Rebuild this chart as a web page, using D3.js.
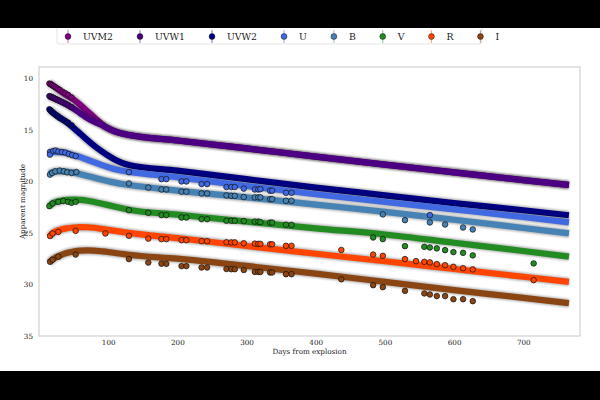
<!DOCTYPE html>
<html><head><meta charset="utf-8">
<script src="https://cdn.jsdelivr.net/npm/d3@7"></script>
<style>body{margin:0;background:#fff}svg{display:block}</style>
</head><body><svg id="c" width="600" height="400"></svg>
<script>
const bands = ["UVM2","UVW1","UVW2","U","B","V","R","I"];
const colors = ["#800080","#4B0082","#000080","#4169E1","#4682B4","#228B22","#FF4500","#8B4513"];
const xTicks = [100,200,300,400,500,600,700];
const yTicks = [10,15,20,25,30,35];

const modelDays = [15,20,30,40,50,60,70,80,90,100,110,120,130,200,300,400,500,600,700,766];
const modelUVM2 = [10.45,10.7,11.2,11.65,12.05,12.6,13.2,13.8,14.4,14.85,15.15,15.35,15.5,16.03,16.8,17.6,18.37,19.12,19.87,20.35];
const modelUVW1 = [11.75,11.9,12.2,12.55,12.95,13.4,13.85,14.2,14.5,14.87,15.16,15.36,15.5,16.03,16.8,17.6,18.37,19.12,19.87,20.35];
const modelUVW2 = [13.0,13.3,13.8,14.25,14.8,15.4,16.0,16.55,17.05,17.5,17.9,18.2,18.4,18.95,19.78,20.6,21.35,22.1,22.8,23.28];
const modelU = [17.2,17.15,17.15,17.25,17.45,17.65,17.9,18.15,18.4,18.62,18.82,18.97,19.07,19.6,20.45,21.25,22.0,22.72,23.45,23.98];
const modelB = [19.25,19.1,19.02,19.05,19.15,19.3,19.47,19.65,19.82,19.98,20.12,20.25,20.35,20.9,21.55,22.25,22.95,23.72,24.52,25.05];
const modelV = [22.4,22.1,21.9,21.8,21.77,21.8,21.88,22.0,22.15,22.3,22.45,22.6,22.75,23.22,23.9,24.55,25.15,25.95,26.75,27.3];
const modelR = [25.35,25.0,24.7,24.55,24.47,24.44,24.45,24.5,24.6,24.7,24.8,24.9,25.0,25.5,26.27,27.02,27.75,28.5,29.25,29.75];
const modelI = [27.85,27.55,27.2,26.95,26.8,26.72,26.7,26.72,26.78,26.85,26.95,27.03,27.12,27.5,28.2,28.95,29.75,30.55,31.3,31.82];

const uvDays = [15,17,19,21,24,27,30,34,38,42,47];
const obsUVM2 = [10.5,10.58,10.66,10.75,10.88,11.0,11.12,11.3,11.45,11.6,11.85];
const obsUVW1 = [11.72,11.78,11.83,11.9,12.0,12.1,12.2,12.32,12.45,12.58,12.78];
const obsUVW2 = [13.0,13.15,13.28,13.4,13.55,13.7,13.85,14.0,14.15,14.3,14.55];

const uDays = [15.8,15.8,20.5,24,28,33,38,43,48,53,130,177,184,206,213,235,243,271,278,283,296,312,317,320,334,337,357,365,565];
const obsU = [17.15,17.4,17.05,17.0,17.1,17.15,17.2,17.35,17.45,17.55,19.1,19.78,19.78,20.0,20.0,20.26,20.26,20.55,20.55,20.55,20.7,20.78,20.78,20.75,20.9,20.9,21.1,21.1,23.27];
const bDays = [15.8,19,23.5,30,35.8,40.7,47,54,130,158,177,184,206,213,235,243,271,278,283,296,312,317,320,334,337,357,365,497,529,565,587,613,627];
const obsB = [19.34,19.18,19.02,18.95,19.02,19.12,19.18,19.09,20.2,20.6,20.78,20.78,21.0,21.0,21.17,21.17,21.36,21.4,21.4,21.52,21.55,21.55,21.55,21.72,21.72,21.88,21.88,23.2,23.76,23.98,24.18,24.47,24.66];
const vDays = [15,19.6,28,35,42,47,53,130,158,177,184,206,213,235,243,271,278,283,296,312,317,320,334,337,357,365,483,497,529,557,565,575,587,599,613,627,715];
const obsV = [22.4,22.14,21.98,21.9,21.98,22.08,21.98,22.79,23.05,23.27,23.27,23.5,23.5,23.66,23.66,23.82,23.82,23.82,23.85,23.9,23.9,23.95,24.0,24.0,24.2,24.22,25.44,25.6,26.28,26.35,26.41,26.5,26.67,26.86,26.93,27.18,27.96];
const rDays = [16,19.6,28,53,96,130,158,177,184,206,213,235,243,271,278,283,296,312,317,320,334,337,357,365,437,483,497,529,545,557,565,575,587,599,613,627,715];
const obsR = [25.3,25.05,24.9,24.8,25.05,25.28,25.55,25.6,25.6,25.7,25.7,25.8,25.8,25.9,25.92,25.92,26.0,26.04,26.06,26.06,26.1,26.1,26.25,26.25,26.65,27.1,27.22,27.54,27.74,27.8,27.86,28.03,28.13,28.29,28.42,28.54,29.58];
const iDays = [16,19.6,28,53,130,158,177,184,206,213,235,243,271,278,283,296,312,317,320,334,337,357,365,437,483,497,529,557,565,575,587,599,613,627];
const obsI = [27.8,27.6,27.3,27.1,27.54,27.87,27.98,28.0,28.22,28.22,28.35,28.35,28.5,28.52,28.52,28.6,28.78,28.78,28.78,28.84,28.84,29.0,29.0,29.5,30.07,30.26,30.62,30.87,30.97,31.13,31.13,31.43,31.43,31.62];

const models = [modelUVM2,modelUVW1,modelUVW2,modelU,modelB,modelV,modelR,modelI];
const obsDays = [uvDays,uvDays,uvDays,uDays,bDays,vDays,rDays,iDays];
const obsMags = [obsUVM2,obsUVW1,obsUVW2,obsU,obsB,obsV,obsR,obsI];

const FONT = "DejaVu Serif";
const svg = d3.select("#c");
const x = d3.scaleLinear().domain([0,782]).range([39,580]);
const y = d3.scaleLinear().domain([8.9,35]).range([67,336]);

const defs = svg.append("defs");
defs.append("filter").attr("id","blur").attr("x","-10%").attr("y","-50%").attr("width","120%").attr("height","200%")
  .append("feGaussianBlur").attr("stdDeviation",0.9);

svg.append("rect").attr("x",39).attr("y",67).attr("width",541).attr("height",269)
  .attr("fill","#fff").attr("stroke","#c8c8c8").attr("stroke-width",1);

const line = d3.line().x(d=>x(d[0])).y(d=>y(d[1])).curve(d3.curveMonotoneX);
const gl = svg.append("g");
models.forEach((m,i)=>{
  const pts = modelDays.map((d,j)=>[d,m[j]]);
  gl.append("path").attr("d",line(pts)).attr("fill","none").attr("stroke","#000")
    .attr("stroke-opacity",0.3).attr("stroke-width",8.5).attr("filter","url(#blur)");
  gl.append("path").attr("d",line(pts)).attr("fill","none").attr("stroke",colors[i])
    .attr("stroke-width",6.2);
});
const gd = svg.append("g");
bands.forEach((b,i)=>{
  gd.selectAll(null).data(obsDays[i].map((d,j)=>[d,obsMags[i][j]])).enter().append("circle")
    .attr("cx",d=>x(d[0])).attr("cy",d=>y(d[1])).attr("r",2.8)
    .attr("fill",colors[i]).attr("stroke","#111").attr("stroke-width",0.7);
});

const ya = svg.append("g").attr("transform","translate(39,0)")
  .call(d3.axisLeft(y).tickValues(yTicks).tickSize(0).tickPadding(6));
ya.select(".domain").remove();
ya.selectAll("text").attr("font-size",7.2).attr("font-family",FONT).attr("fill","#222");
const xa = svg.append("g").attr("transform","translate(0,336)")
  .call(d3.axisBottom(x).tickValues(xTicks).tickSize(0).tickPadding(4));
xa.select(".domain").remove();
xa.selectAll("text").attr("font-size",7.2).attr("font-family",FONT).attr("fill","#222");

svg.append("text").attr("x",309.5).attr("y",354).attr("text-anchor","middle").attr("font-size",7.2)
  .attr("font-family",FONT).attr("fill","#222").text("Days from explosion");
svg.append("text").attr("transform","translate(25,201.5) rotate(-90)").attr("text-anchor","middle").attr("font-size",7.2)
  .attr("font-family",FONT).attr("fill","#222").text("Apparent magnitude");

// legend
const lg = svg.append("g");
lg.append("rect").attr("x",57).attr("y",20).attr("width",425).attr("height",24).attr("rx",2)
  .attr("fill","#fff").attr("stroke","#ddd").attr("stroke-width",0.8);
let mx = 68;
bands.forEach((b,i)=>{
  lg.append("line").attr("x1",mx).attr("x2",mx).attr("y1",30).attr("y2",43)
    .attr("stroke",colors[i]).attr("stroke-opacity",0.45).attr("stroke-width",1.2);
  lg.append("circle").attr("cx",mx).attr("cy",36.5).attr("r",2.9).attr("fill",colors[i]).attr("stroke","#111").attr("stroke-width",0.5);
  const t = lg.append("text").attr("x",mx+15).attr("y",40).attr("font-size",9.3)
    .attr("font-family",FONT).attr("fill","#222").text(b);
  mx = mx + 15 + t.node().getComputedTextLength() + 27;
});

svg.append("rect").attr("x",0).attr("y",0).attr("width",600).attr("height",28).attr("fill","#000");
svg.append("rect").attr("x",0).attr("y",371).attr("width",600).attr("height",29).attr("fill","#000");
</script></body></html>
